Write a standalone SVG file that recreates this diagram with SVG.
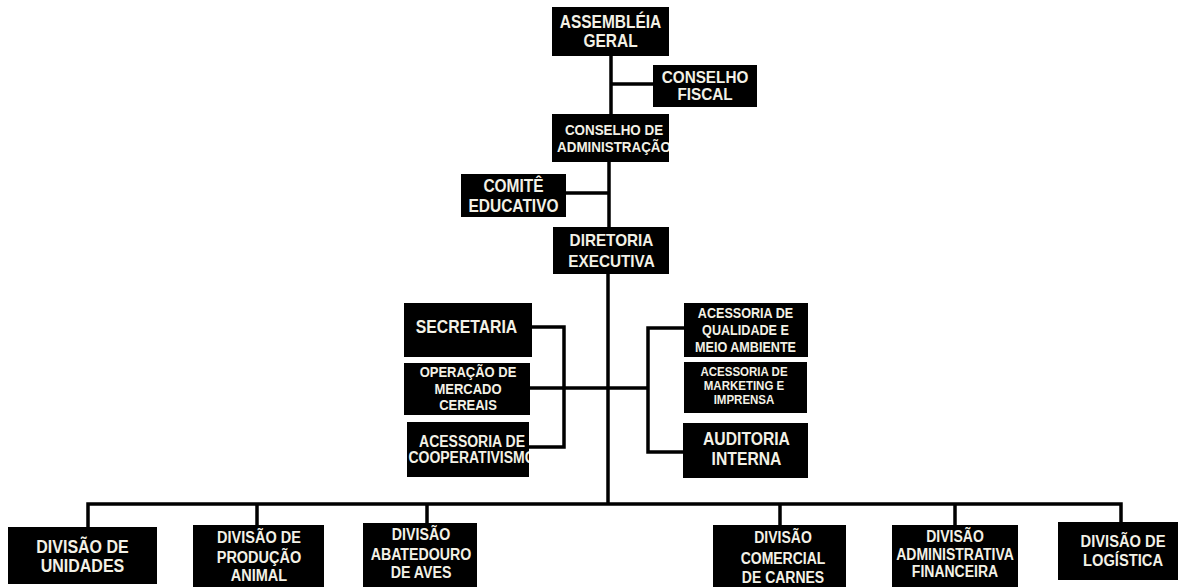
<svg xmlns="http://www.w3.org/2000/svg" width="1182" height="587" viewBox="0 0 1182 587">
  <style>
    .box { fill: #000; }
    .t { fill: #f3f1e6; font-family: "Liberation Sans", Arial, sans-serif; font-weight: bold; text-anchor: middle; }
    .ln { stroke: #000; stroke-width: 3.5; fill: none; stroke-linejoin: miter; }
  </style>
  <defs>
    <clipPath id="clip-ca"><rect x="552" y="114" width="117" height="48"/></clipPath>
    <clipPath id="clip-coop"><rect x="407" y="422" width="122" height="55"/></clipPath>
  </defs>
  <rect width="1182" height="587" fill="#fff"/>

  <!-- connectors -->
  <g id="connectors">
    <path class="ln" d="M611 56 V114"/>
    <path class="ln" d="M611 84 H653"/>
    <path class="ln" d="M609 162 V227"/>
    <path class="ln" d="M566 193 H609"/>
    <path class="ln" d="M608 274 V504"/>
    <path class="ln" d="M532 327 H564 V447 H529"/>
    <path class="ln" d="M530 388 H648"/>
    <path class="ln" d="M684 328 H648 V452 H683"/>
    <path class="ln" d="M88 527 V504 H1121 V522"/>
    <path class="ln" d="M257 504 V525"/>
    <path class="ln" d="M427 504 V523"/>
    <path class="ln" d="M780 504 V525"/>
    <path class="ln" d="M955 504 V525"/>
  </g>

  <g id="assembleia-geral">
    <rect class="box" x="552" y="7" width="117" height="49"/>
    <text class="t" font-size="15.5" transform="translate(610.5,28) scale(1,1.13)"><tspan x="0" y="0">ASSEMBLÉIA</tspan><tspan x="0" y="16.8">GERAL</tspan></text>
  </g>

  <g id="conselho-fiscal">
    <rect class="box" x="653" y="65" width="104" height="42"/>
    <text class="t" font-size="15.3" transform="translate(705,83) scale(1,1.08)"><tspan x="0" y="0">CONSELHO</tspan><tspan x="0" y="15.8">FISCAL</tspan></text>
  </g>

  <g id="conselho-administracao">
    <rect class="box" x="552" y="114" width="117" height="48"/>
    <g clip-path="url(#clip-ca)">
      <text class="t" font-size="13.4" transform="translate(614,135) scale(1,1.13)"><tspan x="0" y="0">CONSELHO DE</tspan><tspan x="0" y="15">ADMINISTRAÇÃO</tspan></text>
    </g>
  </g>

  <g id="comite-educativo">
    <rect class="box" x="461" y="174" width="105" height="43"/>
    <text class="t" font-size="15.5" transform="translate(513.5,192) scale(1,1.13)"><tspan x="0" y="0">COMITÊ</tspan><tspan x="0" y="17.7">EDUCATIVO</tspan></text>
  </g>

  <g id="diretoria-executiva">
    <rect class="box" x="553" y="227" width="116" height="47"/>
    <text class="t" font-size="15.3" transform="translate(611.5,246) scale(1,1.13)"><tspan x="0" y="0">DIRETORIA</tspan><tspan x="0" y="18.6">EXECUTIVA</tspan></text>
  </g>

  <g id="secretaria">
    <rect class="box" x="404" y="303" width="128" height="54"/>
    <text class="t" font-size="15.8" transform="translate(466.5,333) scale(1,1.13)"><tspan x="0" y="0">SECRETARIA</tspan></text>
  </g>

  <g id="operacao-mercado-cereais">
    <rect class="box" x="404" y="363" width="126" height="52"/>
    <text class="t" font-size="13" transform="translate(468,377) scale(1,1.13)"><tspan x="0" y="0">OPERAÇÃO DE</tspan><tspan x="0" y="15">MERCADO</tspan><tspan x="0" y="29.2">CEREAIS</tspan></text>
  </g>

  <g id="acessoria-cooperativismo">
    <rect class="box" x="407" y="422" width="122" height="55"/>
    <g clip-path="url(#clip-coop)">
      <text class="t" font-size="14" transform="translate(472,447) scale(1,1.13)"><tspan x="0" y="0">ACESSORIA DE</tspan><tspan x="0" y="14.2">COOPERATIVISMO</tspan></text>
    </g>
  </g>

  <g id="acessoria-qualidade">
    <rect class="box" x="684" y="303" width="124" height="54"/>
    <text class="t" font-size="12.6" transform="translate(745.5,318) scale(1,1.13)"><tspan x="0" y="0">ACESSORIA DE</tspan><tspan x="0" y="15">QUALIDADE E</tspan><tspan x="0" y="30.1">MEIO AMBIENTE</tspan></text>
  </g>

  <g id="acessoria-marketing">
    <rect class="box" x="684" y="362" width="123" height="51"/>
    <text class="t" font-size="11.5" transform="translate(744,376) scale(1,1.13)"><tspan x="0" y="0">ACESSORIA DE</tspan><tspan x="0" y="12.4">MARKETING E</tspan><tspan x="0" y="24.8">IMPRENSA</tspan></text>
  </g>

  <g id="auditoria-interna">
    <rect class="box" x="683" y="423" width="125" height="55"/>
    <text class="t" font-size="15.7" transform="translate(746.5,445) scale(1,1.13)"><tspan x="0" y="0">AUDITORIA</tspan><tspan x="0" y="17.7">INTERNA</tspan></text>
  </g>

  <g id="divisao-unidades">
    <rect class="box" x="8" y="527" width="149" height="57"/>
    <text class="t" font-size="16" transform="translate(82.5,553) scale(1,1.13)"><tspan x="0" y="0">DIVISÃO DE</tspan><tspan x="0" y="16.8">UNIDADES</tspan></text>
  </g>

  <g id="divisao-producao-animal">
    <rect class="box" x="193" y="525" width="131" height="62"/>
    <text class="t" font-size="14.5" transform="translate(259,543) scale(1,1.13)"><tspan x="0" y="0">DIVISÃO DE</tspan><tspan x="0" y="17.7">PRODUÇÃO</tspan><tspan x="0" y="33.6">ANIMAL</tspan></text>
  </g>

  <g id="divisao-abatedouro">
    <rect class="box" x="363" y="523" width="114" height="64"/>
    <text class="t" font-size="14.2" transform="translate(421,540) scale(1,1.13)"><tspan x="0" y="0">DIVISÃO</tspan><tspan x="0" y="17.7">ABATEDOURO</tspan><tspan x="0" y="33.6">DE AVES</tspan></text>
  </g>

  <g id="divisao-comercial-carnes">
    <rect class="box" x="713" y="525" width="133" height="62"/>
    <text class="t" font-size="14" transform="translate(783,543) scale(1,1.13)"><tspan x="0" y="0">DIVISÃO</tspan><tspan x="0" y="18.6">COMERCIAL</tspan><tspan x="0" y="35.4">DE CARNES</tspan></text>
  </g>

  <g id="divisao-administrativa-financeira">
    <rect class="box" x="892" y="525" width="126" height="62"/>
    <text class="t" font-size="14" transform="translate(955,542) scale(1,1.13)"><tspan x="0" y="0">DIVISÃO</tspan><tspan x="0" y="15.9">ADMINISTRATIVA</tspan><tspan x="0" y="31">FINANCEIRA</tspan></text>
  </g>

  <g id="divisao-logistica">
    <rect class="box" x="1058" y="522" width="120" height="58"/>
    <text class="t" font-size="14.7" transform="translate(1123,547) scale(1,1.13)"><tspan x="0" y="0">DIVISÃO DE</tspan><tspan x="0" y="16.8">LOGÍSTICA</tspan></text>
  </g>
</svg>
